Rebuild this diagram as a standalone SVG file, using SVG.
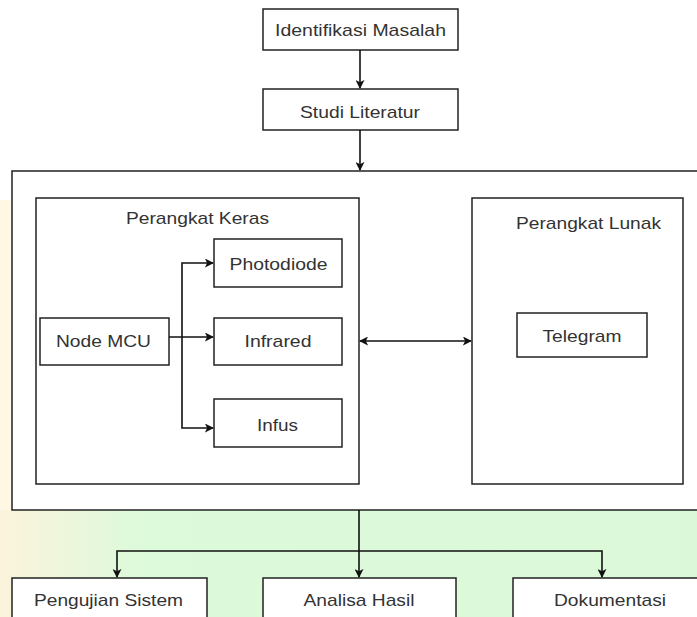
<svg xmlns="http://www.w3.org/2000/svg" width="697" height="617" viewBox="0 0 697 617">
<defs>
<style>
.box{fill:#fff;stroke:#222;stroke-width:1.5}
.t{font-family:"Liberation Sans",Arial,sans-serif;font-size:17px;fill:#333;text-anchor:middle}
.c{fill:none;stroke:#111;stroke-width:1.6}
</style>
<marker id="ah" viewBox="0 0 10 10" refX="9" refY="5" markerWidth="9" markerHeight="9" orient="auto-start-reverse" markerUnits="userSpaceOnUse">
<path d="M0,0 L10,5 L0,10 L2.5,5 Z" fill="#111"/>
</marker>
<linearGradient id="lg" x1="0" y1="0" x2="1" y2="0">
<stop offset="0" stop-color="#fbf3dc"/>
<stop offset="0.2" stop-color="#ddfadb"/>
<stop offset="1" stop-color="#dbf9d9"/>
</linearGradient>
</defs>
<rect width="697" height="617" fill="#fff"/>
<rect x="0" y="510" width="697" height="107" fill="url(#lg)"/>
<rect x="0" y="200" width="12" height="310" fill="#fdf7e4"/>
<g id="identifikasi"><rect class="box" x="263" y="9" width="195" height="41"/><text class="t" x="360.5" y="36" textLength="171" lengthAdjust="spacingAndGlyphs">Identifikasi Masalah</text></g>
<g id="studi"><rect class="box" x="263" y="89" width="195" height="41"/><text class="t" x="360" y="118" textLength="120" lengthAdjust="spacingAndGlyphs">Studi Literatur</text></g>
<g id="container"><rect class="box" x="12" y="171" width="700" height="339"/></g>
<g id="keras"><rect class="box" x="36" y="198" width="323" height="286"/><text class="t" x="197.5" y="224" textLength="143" lengthAdjust="spacingAndGlyphs">Perangkat Keras</text></g>
<g id="lunak"><rect class="box" x="472" y="198" width="211" height="286"/><text class="t" x="588.5" y="229" textLength="145" lengthAdjust="spacingAndGlyphs">Perangkat Lunak</text></g>
<g id="nodemcu"><rect class="box" x="40" y="318" width="129" height="47"/><text class="t" x="103.5" y="347" textLength="95" lengthAdjust="spacingAndGlyphs">Node MCU</text></g>
<g id="photodiode"><rect class="box" x="214" y="239" width="128" height="48"/><text class="t" x="278.5" y="270" textLength="98" lengthAdjust="spacingAndGlyphs">Photodiode</text></g>
<g id="infrared"><rect class="box" x="214" y="318" width="128" height="47"/><text class="t" x="278" y="347" textLength="67" lengthAdjust="spacingAndGlyphs">Infrared</text></g>
<g id="infus"><rect class="box" x="214" y="399" width="128" height="48"/><text class="t" x="277.5" y="431" textLength="41" lengthAdjust="spacingAndGlyphs">Infus</text></g>
<g id="telegram"><rect class="box" x="517" y="313" width="130" height="44"/><text class="t" x="582" y="342" textLength="79" lengthAdjust="spacingAndGlyphs">Telegram</text></g>
<g id="pengujian"><rect class="box" x="12" y="578" width="195" height="50"/><text class="t" x="108.5" y="606" textLength="149" lengthAdjust="spacingAndGlyphs">Pengujian Sistem</text></g>
<g id="analisa"><rect class="box" x="263" y="578" width="193" height="50"/><text class="t" x="359" y="606" textLength="111" lengthAdjust="spacingAndGlyphs">Analisa Hasil</text></g>
<g id="dokumentasi"><rect class="box" x="513" y="578" width="200" height="50"/><text class="t" x="610" y="606" textLength="112" lengthAdjust="spacingAndGlyphs">Dokumentasi</text></g>
<g id="connectors">
<path class="c" d="M360,50 V88" marker-end="url(#ah)"/>
<path class="c" d="M360,130 V170" marker-end="url(#ah)"/>
<path class="c" d="M169,337 H213" marker-end="url(#ah)"/>
<path class="c" d="M182,337 V263 H213" marker-end="url(#ah)"/>
<path class="c" d="M182,337 V428 H213" marker-end="url(#ah)"/>
<path class="c" d="M360,341 H471" marker-start="url(#ah)" marker-end="url(#ah)"/>
<path class="c" d="M359,510 V577" marker-end="url(#ah)"/>
<path class="c" d="M359,551 H117 V577" marker-end="url(#ah)"/>
<path class="c" d="M359,551 H602 V577" marker-end="url(#ah)"/>
</g>
</svg>
